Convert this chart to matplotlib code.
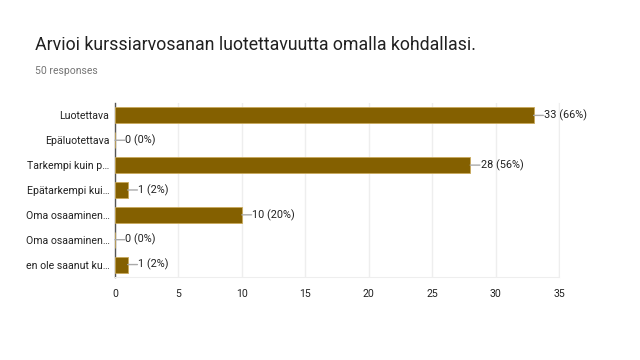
import matplotlib.pyplot as plt

plt.rcParams['font.family'] = ['Roboto', 'DejaVu Sans']

categories = ["Luotettava", "Epäluotettava", "Tarkempi kuin p…", "Epätarkempi kui…",
              "Oma osaaminen…", "Oma osaaminen…", "en ole saanut ku…"]
counts = [33, 0, 28, 1, 10, 0, 1]
percents = [66, 0, 56, 2, 20, 0, 2]
xticks = [0, 5, 10, 15, 20, 25, 30, 35]

bar_color = "#846000"

fig = plt.figure(figsize=(6.4, 3.6), dpi=100)
ax = fig.add_axes([0.1797, 0.2306, 0.6937, 0.4834])

ypos = list(range(len(categories)))
ax.barh(ypos, counts, height=0.64, color=bar_color, edgecolor="#c9a95a", linewidth=0.6, zorder=3)

for y, c, p in zip(ypos, counts, percents):
    ax.annotate("", xy=(c, y), xytext=(7, 0), textcoords="offset points",
                arrowprops=dict(arrowstyle="-", color="#aaaaaa", lw=1.0,
                                shrinkA=0, shrinkB=0), zorder=4)
    ax.annotate(f"{c} ({p}%)", xy=(c, y), xytext=(7.5, 0), textcoords="offset points",
                va="center", ha="left", fontsize=7.8, color="#222222")

ax.set_xlim(0, 35)
ax.set_ylim(6.5, -0.5)
ax.set_xticks(xticks)
ax.set_yticks(ypos)
ax.set_yticklabels(categories)
ax.tick_params(axis="both", length=0, labelsize=7.6, colors="#222222")
ax.tick_params(axis="x", pad=9)
ax.tick_params(axis="y", pad=4)
ax.grid(axis="x", color="#eeeeee", linewidth=1, zorder=0)

ax.spines["top"].set_visible(False)
ax.spines["right"].set_color("#eeeeee")
ax.spines["bottom"].set_color("#eeeeee")
ax.spines["left"].set_color("#555555")
ax.spines["left"].set_linewidth(1)

fig.text(35 / 640, 1 - 45 / 360, "Arvioi kurssiarvosanan luotettavuutta omalla kohdallasi.",
         fontsize=12.75, color="#212121", va="center", ha="left")
fig.text(35 / 640, 1 - 71 / 360, "50 responses", fontsize=7.5, color="#757575",
         va="center", ha="left")

fig.savefig("out.png", dpi=100)
